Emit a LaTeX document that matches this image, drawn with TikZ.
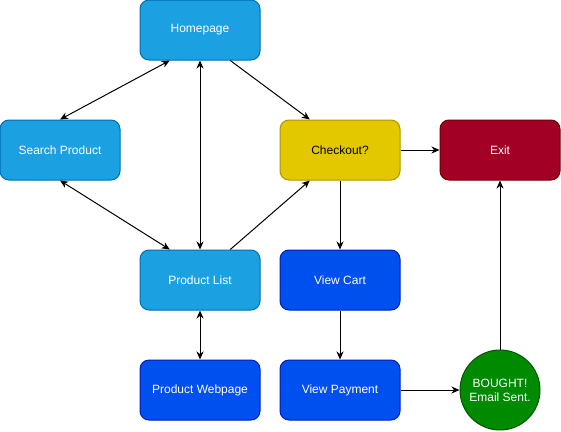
\documentclass[tikz,border=0pt]{standalone}
\usepackage{fontspec}
\setmainfont{Liberation Sans}
\usetikzlibrary{calc}
\usetikzlibrary{arrows.meta}
\usepackage{xcolor}

\definecolor{pageblue}{HTML}{1BA1E2}
\definecolor{pageblueline}{HTML}{006EAF}
\definecolor{stepblue}{HTML}{0050EF}
\definecolor{stepblueline}{HTML}{001DBC}
\definecolor{askyellow}{HTML}{E3C800}
\definecolor{askyellowline}{HTML}{B09500}
\definecolor{exitred}{HTML}{A20025}
\definecolor{exitredline}{HTML}{6F0000}
\definecolor{donegreen}{HTML}{008A00}
\definecolor{donegreenline}{HTML}{005700}

\tikzset{
  shop/.style={rectangle, rounded corners=9pt, minimum width=120pt, minimum height=60pt,
    inner sep=0pt, line width=1pt, text=white, font=\fontsize{12}{14}\selectfont},
  pagebox/.style={shop, fill=pageblue, draw=pageblueline},
  stepbox/.style={shop, fill=stepblue, draw=stepblueline},
  askbox/.style={shop, fill=askyellow, draw=askyellowline, text=black},
  exitbox/.style={shop, fill=exitred, draw=exitredline},
  donecircle/.style={circle, minimum size=80pt, inner sep=0pt, line width=1pt, align=center,
    fill=donegreen, draw=donegreenline, text=white, font=\fontsize{12}{14}\selectfont},
  oneway/.style={line width=1pt, -{Stealth[length=8pt,width=7pt,inset=2.5pt]}},
  twoway/.style={line width=1pt, {Stealth[length=8pt,width=7pt,inset=2.5pt]}-{Stealth[length=8pt,width=7pt,inset=2.5pt]}}
}

\begin{document}
\begin{tikzpicture}[x=1pt, y=-1pt]
\useasboundingbox (0,0) rectangle (561,431);

\node[pagebox] (home) at (200,30) {Homepage};
\node[pagebox] (search) at (60,150) {Search Product};
\node[askbox] (checkout) at (340,150) {Checkout?};
\node[exitbox] (exit) at (500,150) {Exit};
\node[pagebox] (list) at (200,280) {Product List};
\node[stepbox] (cart) at (340,280) {View Cart};
\node[stepbox] (webpage) at (200,390) {Product Webpage};
\node[stepbox] (payment) at (340,390) {View Payment};
\node[donecircle] (bought) at (500,390) {BOUGHT!\\Email Sent.};

% browsing
\draw[twoway] ($(home.south)!0.5!(home.south west)$) -- (search.north);
\draw[twoway] (home.south) -- (list.north);
\draw[twoway] (search.south) -- ($(list.north)!0.5!(list.north west)$);
\draw[twoway] (list.south) -- (webpage.north);

% buying
\draw[oneway] ($(home.south)!0.5!(home.south east)$) -- ($(checkout.north)!0.5!(checkout.north west)$);
\draw[oneway] ($(list.north)!0.5!(list.north east)$) -- ($(checkout.south)!0.5!(checkout.south west)$);
\draw[oneway] (checkout.east) -- (exit.west);
\draw[oneway] (checkout.south) -- (cart.north);
\draw[oneway] (cart.south) -- (payment.north);
\draw[oneway] (payment.east) -- (bought.west);
\draw[oneway] (bought.north) -- (exit.south);

\end{tikzpicture}
\end{document}
